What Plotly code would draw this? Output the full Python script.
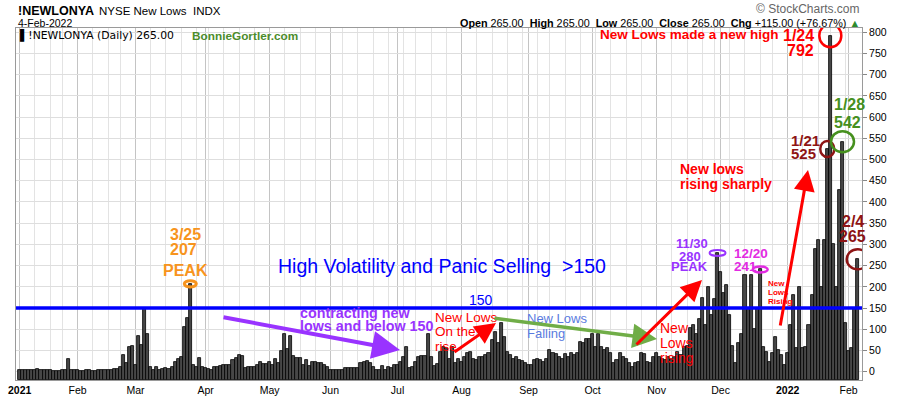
import numpy as np
import pandas as pd
import plotly.graph_objects as go

# ---------------- data ----------------
holidays = ["2021-01-18", "2021-02-15", "2021-04-02", "2021-05-31", "2021-07-05",
            "2021-09-06", "2021-11-25", "2021-12-24", "2022-01-17"]
dates = [d for d in pd.bdate_range("2021-01-04", "2022-02-04")
         if d.strftime("%Y-%m-%d") not in holidays]

jan21 = [4, 3, 4, 4, 3, 4, 6, 3, 4, 4, 4, 2, 2, 2, 3, 3, 30, 5, 3]
feb21 = [3, 2, 2, 3, 3, 2, 2, 3, 4, 4, 5, 5, 6, 6, 10, 39, 20, 59, 60]
mar21 = [15, 84, 64, 150, 90, 10, 5, 10, 4, 7, 8, 6, 12, 22, 30, 34, 106, 126, 207, 16, 10, 32, 10]
apr21 = [8, 6, 5, 10, 10, 13, 16, 16, 16, 28, 32, 39, 37, 8, 10, 10, 10, 16, 24, 18, 18]
may21 = [24, 16, 30, 20, 49, 90, 53, 84, 36, 32, 32, 16, 28, 13, 24, 24, 20, 20, 16, 10]
jun21 = [5, 4, 5, 5, 4, 8, 8, 8, 8, 8, 20, 24, 26, 20, 10, 4, 3, 13, 4, 10, 8, 16]
jul21 = [16, 24, 34, 59, 8, 12, 24, 34, 36, 38, 90, 34, 13, 18, 47, 59, 55, 30, 59, 20, 31]
aug21 = [24, 35, 43, 47, 31, 28, 35, 35, 39, 45, 75, 94, 67, 114, 82, 47, 39, 29, 35, 28, 25, 20]
sep21 = [16, 16, 28, 31, 28, 24, 29, 51, 43, 41, 35, 31, 41, 35, 43, 39, 45, 71, 67, 76, 76]
oct21 = [90, 59, 90, 59, 51, 55, 43, 20, 28, 43, 35, 30, 20, 12, 20, 22, 43, 41, 24, 20, 35]
nov21 = [43, 35, 29, 28, 35, 31, 35, 47, 39, 59, 60, 102, 110, 90, 125, 173, 110, 200, 133, 171, 280]
dec21 = [236, 185, 204, 133, 60, 20, 67, 90, 228, 150, 228, 100, 150, 241, 59, 47, 24, 43, 82, 51, 39, 16]
jan22 = [43, 110, 181, 55, 200, 55, 59, 110, 180, 290, 310, 200, 310, 525, 792, 300, 200, 428, 542, 114]
feb22 = [48, 55, 150, 265]

values = jan21 + feb21 + mar21 + apr21 + may21 + jun21 + jul21 + aug21 + sep21 + oct21 + nov21 + dec21 + jan22 + feb22
n = len(values)
dates = dates[:n]

month_names = ["2021", "Feb", "Mar", "Apr", "May", "Jun", "Jul", "Aug", "Sep", "Oct", "Nov", "Dec", "2022", "Feb"]
y_ticks = list(range(0, 801, 50))
threshold = 150

# labelled points
callouts = [("2021-03-25", 207), ("2021-11-30", 280), ("2021-12-20", 241),
            ("2022-01-21", 525), ("2022-01-24", 792), ("2022-01-28", 542), ("2022-02-04", 265)]

# ---------------- derived positions ----------------
x = np.arange(n)
date_str = [d.strftime("%Y-%m-%d") for d in dates]
month_idx = [i for i in range(n) if i == 0 or dates[i].month != dates[i - 1].month]
week_idx = [i for i in range(n) if i == 0 or dates[i].weekday() <= dates[i - 1].weekday()]
ticktext = [f"<b>{m}</b>" if m.isdigit() else m for m in month_names]

YMIN, YMAX = -19.6, 810

fig = go.Figure()
fig.add_trace(go.Bar(
    x=x, y=np.array(values) - YMIN, base=YMIN,
    marker=dict(color="#474747", line=dict(color="#000000", width=0.8)),
    hoverinfo="skip", showlegend=False))

L, R, T, B = 16, 862, 28, 380
W, H = R - L, B - T


def px(xp):
    return (xp - L) / W


def py(yp):
    return (B - yp) / H


ann = []


def text(s, xp, yp, color, size, bold=False, anchor="left", family="Liberation Sans, Arial"):
    ann.append(dict(text=(f"<b>{s}</b>" if bold else s), x=px(xp), y=py(yp), xref="paper", yref="paper",
                    xanchor=anchor, yanchor="middle", showarrow=False,
                    font=dict(color=color, size=size, family=family)))


def arrow(x0, y0, x1, y1, color, width):
    ann.append(dict(text="", x=px(x1), y=py(y1), xref="paper", yref="paper",
                    ax=x0 - x1, ay=y0 - y1, axref="pixel", ayref="pixel",
                    showarrow=True, arrowhead=2, arrowsize=1.4, arrowwidth=width,
                    arrowcolor=color, standoff=0, startstandoff=0))


ORANGE = "#F7941D"
PURPLE = "#9933FF"
MAGENTA = "#E22BE2"
RED = "#FF0000"
DARKRED = "#8E1414"
GREEN = "#46901E"

# header
text("!NEWLONYA", 16, 11, "#000", 12.5, bold=True)
text("NYSE New Lows\u00a0\u00a0INDX", 97, 11, "#000", 11.5)
text("4-Feb-2022", 16, 22.5, "#000", 10.5)
text("\u00a9 StockCharts.com", 862, 9, "#666", 12, anchor="right")
text("<b>Open</b> 265.00\u00a0\u00a0<b>High</b> 265.00\u00a0\u00a0<b>Low</b> 265.00\u00a0\u00a0<b>Close</b> 265.00"
     "\u00a0\u00a0<b>Chg</b> +115.00 (+76.67%) <span style='color:#2e8b2e'>\u25B2</span>",
     862, 22.5, "#000", 10.8, anchor="right")
text("\u258C!NEWLONYA (Daily) 265.00", 17, 35, "#000", 10.8, family="DejaVu Sans")
text("BonnieGortler.com", 190, 35.5, "#4C8C2B", 11.8, bold=True)

# annotations in the chart
text("3/25", 185.5, 234, ORANGE, 16, True, "center")
text("207", 183, 249, ORANGE, 16, True, "center")
text("PEAK", 185.5, 270, ORANGE, 16, True, "center")
text("High Volatility and Panic Selling\u00a0\u00a0>150", 441.5, 266, "#0000FF", 19.5, anchor="center")
text("150", 481, 300, "#0000FF", 14, anchor="center")
text("contracting new", 298, 312.5, PURPLE, 14.3, True)
text("lows and below 150", 298, 326, PURPLE, 14.3, True)
text("New Lows", 433, 317, RED, 13.5)
text("On the", 433, 331, RED, 13.5)
text("rise", 433, 346, RED, 13.5)
text("New Lows", 525, 318.5, "#5A7BE0", 13)
text("Falling", 525, 333.5, "#5A7BE0", 13)
text("New", 658, 328, RED, 14)
text("Lows", 658, 343, RED, 14)
text("rising", 658, 358, RED, 14)
text("11/30", 692, 243, PURPLE, 13, True, "center")
text("280", 690, 256, PURPLE, 13, True, "center")
text("PEAK", 689, 266.5, PURPLE, 13, True, "center")
text("12/20", 732, 253, MAGENTA, 13.5, True)
text("241", 732, 266, MAGENTA, 13.5, True)
text("New", 766, 283, RED, 8, True)
text("Lows", 766, 292.5, RED, 8, True)
text("Rising", 766, 301.5, RED, 8, True)
text("New lows", 678, 169, RED, 14, True)
text("rising sharply", 678, 184, RED, 14, True)
text("New Lows made a new high", 598, 34, RED, 13.5, True)
text("1/24", 816, 36, RED, 16, True, "right")
text("792", 816, 50, RED, 16, True, "right")
text("1/21", 789, 140.5, DARKRED, 15, True)
text("525", 789, 153.5, DARKRED, 15, True)
text("1/28", 832, 104, GREEN, 16, True)
text("542", 832, 122, GREEN, 16, True)
text("2/4", 866, 221.5, DARKRED, 16, True, "right")
text("265", 868, 236.5, DARKRED, 16, True, "right")

arrow(222, 317, 400, 350, PURPLE, 4)
arrow(453, 353, 496, 323, RED, 3)
arrow(493, 318, 657, 339, "#70AD47", 3.5)
arrow(635, 346, 702, 280, RED, 3)
arrow(780, 327, 808, 170, RED, 3)

ring_style = {
    "2021-03-25": (ORANGE, 6, 3.2, 3),
    "2021-11-30": (PURPLE, 8, 3, 2),
    "2021-12-20": (MAGENTA, 7.5, 3, 2.5),
    "2022-01-21": (DARKRED, 7, 8, 2.5),
    "2022-01-24": (RED, 11, 11.5, 2.5),
    "2022-01-28": (GREEN, 11.5, 10.5, 2.5),
    "2022-02-04": (DARKRED, 11, 10, 2.5),
}
shapes = [dict(type="line", xref="paper", x0=0, x1=1, yref="y", y0=threshold, y1=threshold,
               line=dict(color="#0000FF", width=3.5), layer="above")]
for d, v in callouts:
    col, rx, ry, lw = ring_style[d]
    i = date_str.index(d)
    shapes.append(dict(type="circle", xref="x", yref="y", xsizemode="pixel", ysizemode="pixel",
                       xanchor=i, yanchor=v, x0=-rx, x1=rx, y0=-ry, y1=ry,
                       line=dict(color=col, width=lw), layer="above"))

fig.update_layout(
    width=900, height=396,
    margin=dict(l=L, r=900 - R, t=T, b=396 - B, autoexpand=False),
    paper_bgcolor="white", plot_bgcolor="white",
    bargap=0,
    showlegend=False,
    annotations=ann,
    shapes=shapes,
    xaxis=dict(range=[-1.2, 276.4], tickmode="array", tickvals=month_idx, ticktext=ticktext,
               tickfont=dict(size=10.5, family="Liberation Sans, Arial", color="#000"),
               ticks="", showgrid=True, gridcolor="#c4c4c4", gridwidth=1, automargin=False,
               minor=dict(tickmode="array", tickvals=week_idx, showgrid=True, gridcolor="#e3e3e3", gridwidth=1),
               showline=True, linecolor="#9a9a9a", mirror=True, zeroline=False, fixedrange=True),
    yaxis=dict(range=[YMIN, YMAX], side="right", tickmode="array", tickvals=y_ticks,
               tickfont=dict(size=10.5, family="Liberation Sans, Arial", color="#000"),
               ticks="outside", ticklen=4, tickcolor="#888", automargin=False,
               showgrid=True, gridcolor="#dedede", gridwidth=1,
               showline=True, linecolor="#9a9a9a", mirror=True, zeroline=False, fixedrange=True),
)

fig.write_html("out.html", config={"displayModeBar": False},
               post_script="document.body.style.margin='0';document.body.style.overflow='hidden';")
